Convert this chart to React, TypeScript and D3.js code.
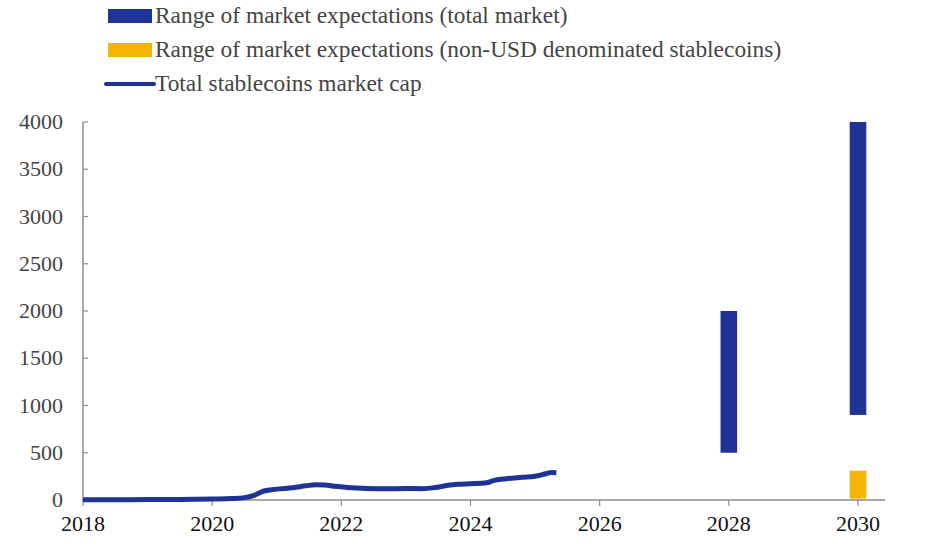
import * as d3 from 'd3'

// Total stablecoins market cap (USD bn), decimal years
const capYears = [
  2018.0, 2018.5, 2019.0, 2019.5, 2020.0, 2020.3, 2020.5, 2020.65, 2020.8, 2021.0,
  2021.25, 2021.45, 2021.6, 2021.75, 2021.9, 2022.1, 2022.4, 2022.7, 2023.0, 2023.25,
  2023.45, 2023.65, 2023.8, 2024.0, 2024.25, 2024.35, 2024.55, 2024.8, 2025.0, 2025.15,
  2025.25, 2025.33,
]
const capValues = [
  2, 3, 4, 5, 10, 15, 25, 50, 95, 115,
  130, 150, 162, 160, 145, 132, 122, 119, 121, 120,
  132, 155, 166, 172, 182, 205, 225, 240, 252, 275,
  290, 288,
]

// Range of market expectations
const totalYears = [2028, 2030]
const totalLow = [500, 900]
const totalHigh = [2000, 4000]
const nonUsdYears = [2030]
const nonUsdLow = [15]
const nonUsdHigh = [310]

const xTicks = [2018, 2020, 2022, 2024, 2026, 2028, 2030]
const yTicks = [0, 500, 1000, 1500, 2000, 2500, 3000, 3500, 4000]

const legendLabels = [
  'Range of market expectations (total market)',
  'Range of market expectations (non-USD denominated stablecoins)',
  'Total stablecoins market cap',
]

const BLUE = '#1f3396'
const YELLOW = '#f5b400'
const AXIS = '#8c8c8c'
const FONT = 'Liberation Serif'

export default function App() {
  const x = d3.scaleLinear().domain([2018, 2030]).range([83, 858])
  const y = d3.scaleLinear().domain([0, 4000]).range([500, 122])
  const xEnd = 2030.42
  const barW = 16.6

  const line = d3.line<number>()
    .x((_, i) => x(capYears[i]))
    .y(v => y(v))
    .curve(d3.curveMonotoneX)

  const lx = 108
  const rows = [16, 50, 84]

  return (
    <svg width={945} height={546} style={{ position: 'absolute', left: 0, top: 0, background: '#fff' }}>
      {/* axes */}
      <line x1={x(2018)} x2={x(xEnd)} y1={y(0)} y2={y(0)} stroke={AXIS} strokeWidth={1.5} />
      <line x1={x(2018)} x2={x(2018)} y1={y(0)} y2={y(4000)} stroke={AXIS} strokeWidth={1.5} />
      {xTicks.map(t => (
        <g key={t}>
          <line x1={x(t)} x2={x(t)} y1={y(0)} y2={y(0) + 6} stroke={AXIS} strokeWidth={1.2} />
          <text x={x(t)} y={y(0) + 31} textAnchor="middle" fontFamily={FONT} fontSize={22} fill="#111">{t}</text>
        </g>
      ))}
      {yTicks.map(t => (
        <g key={t}>
          <line x1={x(2018)} x2={x(2018) + 5} y1={y(t)} y2={y(t)} stroke={AXIS} strokeWidth={1.2} />
          <text x={63} y={y(t) + 7} textAnchor="end" fontFamily={FONT} fontSize={22} fill="#444">{t}</text>
        </g>
      ))}

      {/* expectation bars */}
      {totalYears.map((yr, i) => (
        <rect key={yr} x={x(yr) - barW / 2} width={barW}
          y={y(totalHigh[i])} height={y(totalLow[i]) - y(totalHigh[i])} fill={BLUE} />
      ))}
      {nonUsdYears.map((yr, i) => (
        <rect key={yr} x={x(yr) - barW / 2} width={barW}
          y={y(nonUsdHigh[i])} height={y(nonUsdLow[i]) - y(nonUsdHigh[i])} fill={YELLOW} />
      ))}

      {/* market cap line */}
      <path d={line(capValues) ?? ''} fill="none" stroke={BLUE} strokeWidth={5} strokeLinejoin="round" />

      {/* legend */}
      <rect x={lx} y={rows[0] - 7} width={44} height={14} fill={BLUE} />
      <rect x={lx} y={rows[1] - 7} width={44} height={14} fill={YELLOW} />
      <line x1={lx - 2} x2={lx + 46} y1={rows[2]} y2={rows[2]} stroke={BLUE} strokeWidth={4} strokeLinecap="round" />
      {legendLabels.map((lab, i) => (
        <text key={lab} x={155} y={rows[i] + 7} fontFamily={FONT} fontSize={23.4} fill="#444">{lab}</text>
      ))}
    </svg>
  )
}
